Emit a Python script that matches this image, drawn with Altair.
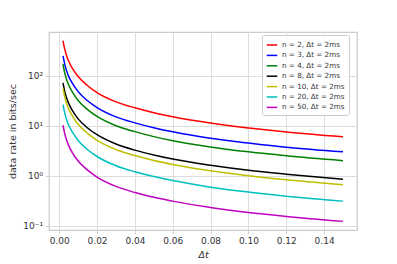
import altair as alt
import pandas as pd

dt = [0.002, 0.003, 0.004, 0.005, 0.007, 0.01, 0.015, 0.02, 0.03, 0.04, 0.05, 0.06, 0.08, 0.10, 0.12, 0.15]
labels = ["n = 2, Δt = 2ms", "n = 3, Δt = 2ms", "n = 4, Δt = 2ms", "n = 8, Δt = 2ms",
          "n = 10, Δt = 2ms", "n = 20, Δt = 2ms", "n = 50, Δt = 2ms"]
colors = ["#ff0000", "#0000ff", "#008000", "#000000", "#bfbf00", "#00bfbf", "#bf00bf"]

n2 = [500, 330, 245, 195, 140, 96, 63, 46, 30, 22.8, 18.2, 15.1, 11.3, 9.0, 7.5, 6.0]
n3 = [250, 165, 122, 97, 70, 48, 31.5, 23, 15, 11.4, 9.1, 7.55, 5.6, 4.5, 3.7, 3.0]
n4 = [170, 110, 82, 65, 47, 32, 21, 15.3, 10, 7.6, 6.05, 5.0, 3.76, 3.0, 2.5, 2.0]
n8 = [72, 47, 35, 28, 20, 13.7, 9.0, 6.6, 4.3, 3.25, 2.6, 2.15, 1.61, 1.28, 1.07, 0.85]
n10 = [56, 37, 27, 21.7, 15.6, 10.7, 7.0, 5.1, 3.35, 2.53, 2.02, 1.68, 1.25, 1.0, 0.83, 0.66]
n20 = [26.5, 17.4, 12.9, 10.3, 7.4, 5.05, 3.3, 2.42, 1.58, 1.2, 0.96, 0.8, 0.59, 0.47, 0.39, 0.31]
n50 = [10.2, 6.7, 5.0, 4.0, 2.86, 1.96, 1.29, 0.94, 0.61, 0.46, 0.37, 0.31, 0.23, 0.183, 0.153, 0.122]

series = [n2, n3, n4, n8, n10, n20, n50]
rows = []
for lab, vals in zip(labels, series):
    for x, y in zip(dt, vals):
        rows.append({"dt": x, "rate": y, "series": lab})
df = pd.DataFrame(rows)

x_ticks = [0.0, 0.02, 0.04, 0.06, 0.08, 0.10, 0.12, 0.14]
y_ticks = [0.1, 1, 10, 100]

chart = alt.Chart(df).mark_line(strokeWidth=1.5, interpolate="monotone").encode(
    x=alt.X("dt:Q", title="Δt",
            scale=alt.Scale(domain=[-0.0054, 0.1574], nice=False, zero=False),
            axis=alt.Axis(values=x_ticks, format=".2f", titleFontStyle="italic")),
    y=alt.Y("rate:Q", title="data rate in bits/sec",
            scale=alt.Scale(type="log", domain=[0.082, 748], nice=False),
            axis=alt.Axis(values=y_ticks,
                          labelExpr="datum.value < 0.5 ? '10⁻¹' : datum.value < 5 ? '10⁰' : datum.value < 50 ? '10¹' : '10²'",
                          titlePadding=5)),
    color=alt.Color("series:N", sort=labels,
                    scale=alt.Scale(domain=labels, range=colors),
                    legend=alt.Legend(title=None, orient="none", legendX=213, legendY=3,
                                      symbolType="stroke", symbolSize=110, symbolStrokeWidth=1.5,
                                      labelFontSize=7.2, rowPadding=0.4, labelOffset=4,
                                      strokeColor="#cccccc", fillColor="rgba(255,255,255,0.85)",
                                      cornerRadius=2, padding=4, labelColor="#333333")),
    detail="series:N",
).properties(
    width=308, height=198,
    autosize=alt.AutoSizeParams(type="none"),
    padding={"left": 41, "top": 24, "right": 32, "bottom": 34},
).configure_view(
    stroke="#cccccc", strokeWidth=1.25
).configure_axis(
    grid=True, gridColor="#dddddd", gridWidth=1,
    domain=False, tickColor="#cccccc", tickSize=3.5,
    labelFont="DejaVu Sans", labelFontSize=9, labelColor="#333333", labelPadding=3,
    titleFont="DejaVu Sans", titleFontSize=9.5, titleFontWeight="normal", titleColor="#333333",
).configure_legend(
    labelFont="DejaVu Sans"
)

chart.save("out.html", embed_options={"renderer": "svg", "actions": False})
